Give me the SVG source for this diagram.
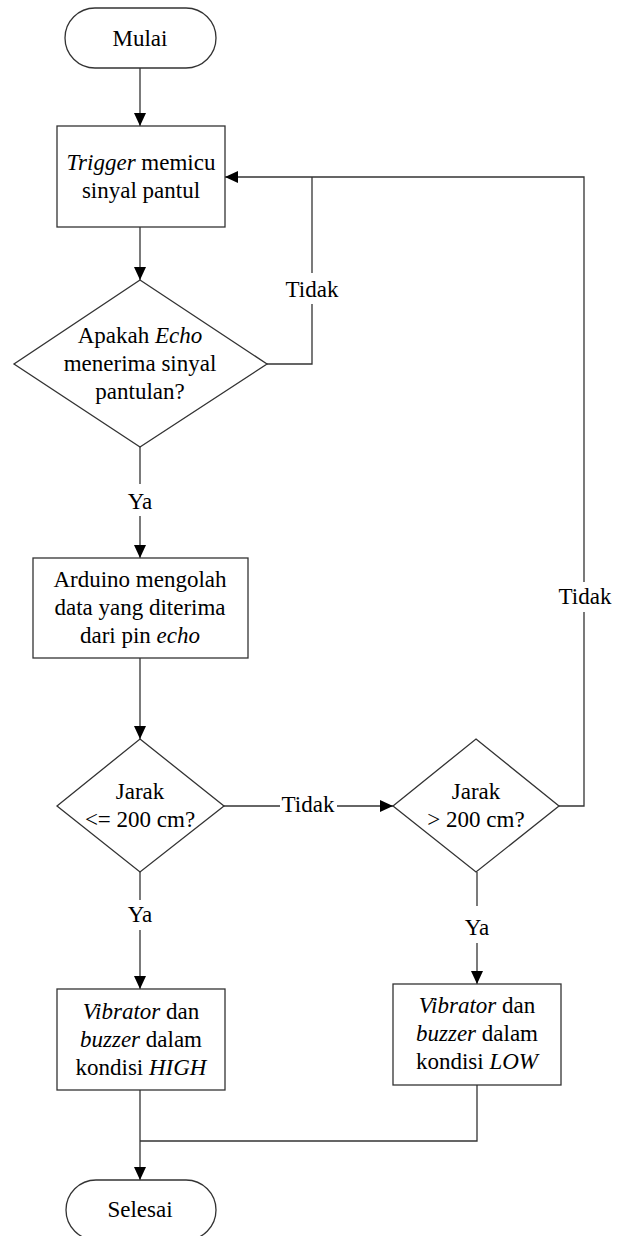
<svg xmlns="http://www.w3.org/2000/svg" width="618" height="1236" viewBox="0 0 618 1236">
<style>
.shape{fill:#fff;stroke:#333;stroke-width:1.3}
.line{fill:none;stroke:#333;stroke-width:1.3}
.t{font-family:'Liberation Serif','Tinos','Nimbus Roman','DejaVu Serif',serif;font-size:23px;fill:#000;text-anchor:middle}
.i{font-style:italic}
</style>
<defs>
<marker id="arr" markerUnits="userSpaceOnUse" markerWidth="13" markerHeight="12" refX="13" refY="6" orient="auto">
<path d="M0,0 L13,6 L0,12 Z" fill="#000"/>
</marker>
</defs>
<g id="connectors">
<path class="line" d="M140,68 V126" marker-end="url(#arr)"/>
<path class="line" d="M140,227 V280" marker-end="url(#arr)"/>
<path class="line" d="M140,447 V484"/>
<path class="line" d="M140,516 V558" marker-end="url(#arr)"/>
<path class="line" d="M140,658 V739" marker-end="url(#arr)"/>
<path class="line" d="M267,364 H312 V304"/>
<path class="line" d="M312,273 V177"/>
<path class="line" d="M559,806 H584 V612"/>
<path class="line" d="M584,582 V177 H225" marker-end="url(#arr)"/>
<path class="line" d="M224,806 H280"/>
<path class="line" d="M337,806 H393" marker-end="url(#arr)"/>
<path class="line" d="M140,872 V900"/>
<path class="line" d="M140,930 V989" marker-end="url(#arr)"/>
<path class="line" d="M477,872 V906"/>
<path class="line" d="M477,943 V984" marker-end="url(#arr)"/>
<path class="line" d="M477,1085 V1141 H140"/>
<path class="line" d="M140,1090 V1180" marker-end="url(#arr)"/>
<text class="t" x="312" y="297" font-family="Liberation Serif, serif">Tidak</text>
<text class="t" x="585" y="604" font-family="Liberation Serif, serif">Tidak</text>
<text class="t" x="308" y="812" font-family="Liberation Serif, serif">Tidak</text>
<text class="t" x="140" y="509" font-family="Liberation Serif, serif">Ya</text>
<text class="t" x="140" y="922" font-family="Liberation Serif, serif">Ya</text>
<text class="t" x="477" y="935" font-family="Liberation Serif, serif">Ya</text>
</g>
<g id="start">
<rect class="shape" x="65" y="8" width="151" height="60" rx="30" ry="30"/>
<text class="t" x="140" y="46">Mulai</text>
</g>
<g id="trigger">
<rect class="shape" x="57" y="126" width="168" height="101"/>
<text class="t" x="141" y="170"><tspan class="i">Trigger</tspan> memicu</text>
<text class="t" x="141" y="198">sinyal pantul</text>
</g>
<g id="echo-decision">
<polygon class="shape" points="140,280 267,364 140,447 14,364"/>
<text class="t" x="140" y="343">Apakah <tspan class="i">Echo</tspan></text>
<text class="t" x="140" y="371">menerima sinyal</text>
<text class="t" x="140" y="399">pantulan?</text>
</g>
<g id="arduino">
<rect class="shape" x="33" y="558" width="215" height="100"/>
<text class="t" x="140" y="587">Arduino mengolah</text>
<text class="t" x="140" y="615">data yang diterima</text>
<text class="t" x="140" y="643">dari pin <tspan class="i">echo</tspan></text>
</g>
<g id="decision-le200">
<polygon class="shape" points="140,739 224,806 140,872 57,806"/>
<text class="t" x="140" y="799">Jarak</text>
<text class="t" x="140" y="827">&lt;= 200 cm?</text>
</g>
<g id="decision-gt200">
<polygon class="shape" points="476,739 559,806 476,872 393,806"/>
<text class="t" x="476" y="799">Jarak</text>
<text class="t" x="476" y="827">&gt; 200 cm?</text>
</g>
<g id="high">
<rect class="shape" x="57" y="989" width="168" height="101"/>
<text class="t" x="141" y="1019"><tspan class="i">Vibrator</tspan> dan</text>
<text class="t" x="141" y="1047"><tspan class="i">buzzer</tspan> dalam</text>
<text class="t" x="141" y="1075">kondisi <tspan class="i">HIGH</tspan></text>
</g>
<g id="low">
<rect class="shape" x="393" y="984" width="168" height="101"/>
<text class="t" x="477" y="1013"><tspan class="i">Vibrator</tspan> dan</text>
<text class="t" x="477" y="1041"><tspan class="i">buzzer</tspan> dalam</text>
<text class="t" x="477" y="1069">kondisi <tspan class="i">LOW</tspan></text>
</g>
<g id="end">
<rect class="shape" x="66" y="1180" width="150" height="60" rx="30" ry="30"/>
<text class="t" x="140" y="1217">Selesai</text>
</g>
</svg>
